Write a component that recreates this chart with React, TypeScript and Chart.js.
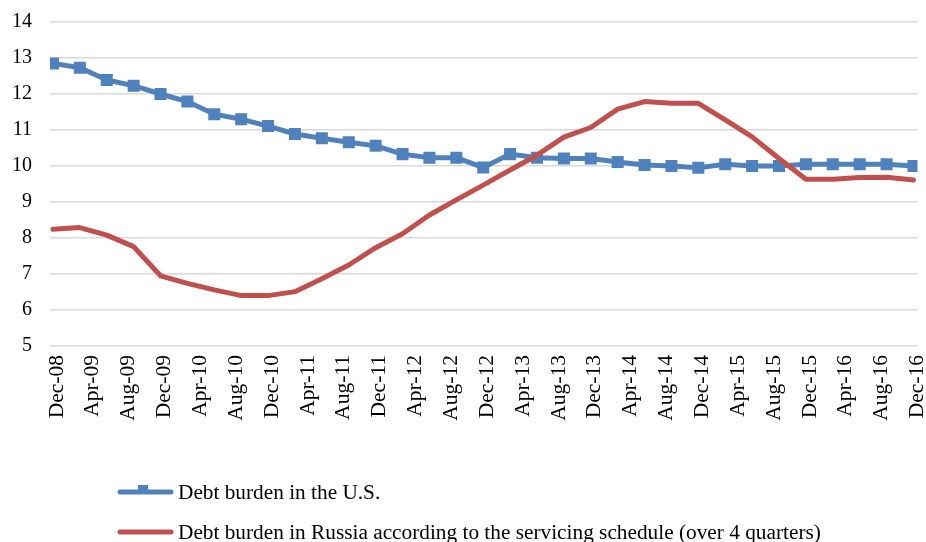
import React, { useEffect, useRef } from "react";
import { Chart, registerables } from "chart.js";

Chart.register(...registerables);

const MONTHS = ["Jan", "Feb", "Mar", "Apr", "May", "Jun", "Jul", "Aug", "Sep", "Oct", "Nov", "Dec"];

// Quarterly observation dates
const quarters = [
  "Dec-08", "Mar-09", "Jun-09", "Sep-09", "Dec-09", "Mar-10", "Jun-10", "Sep-10",
  "Dec-10", "Mar-11", "Jun-11", "Sep-11", "Dec-11", "Mar-12", "Jun-12", "Sep-12",
  "Dec-12", "Mar-13", "Jun-13", "Sep-13", "Dec-13", "Mar-14", "Jun-14", "Sep-14",
  "Dec-14", "Mar-15", "Jun-15", "Sep-15", "Dec-15", "Mar-16", "Jun-16", "Sep-16",
  "Dec-16",
];

const usDebtBurden = [
  12.85, 12.73, 12.39, 12.23, 12.0, 11.79, 11.44, 11.3,
  11.11, 10.89, 10.77, 10.66, 10.56, 10.33, 10.23, 10.23,
  9.96, 10.33, 10.23, 10.21, 10.21, 10.11, 10.03, 10.0,
  9.95, 10.05, 10.0, 10.0, 10.05, 10.05, 10.05, 10.05,
  10.0,
];

const russiaDebtBurden = [
  8.24, 8.29, 8.08, 7.76, 6.95, 6.74, 6.56, 6.4,
  6.4, 6.51, 6.87, 7.25, 7.73, 8.12, 8.64, 9.06,
  9.47, 9.89, 10.3, 10.8, 11.07, 11.58, 11.79, 11.74,
  11.74, 11.28, 10.81, 10.21, 9.63, 9.63, 9.68, 9.69,
  9.61,
];

// Axis tick labels (every four months)
const tickLabels = [
  "Dec-08", "Apr-09", "Aug-09", "Dec-09", "Apr-10", "Aug-10", "Dec-10", "Apr-11",
  "Aug-11", "Dec-11", "Apr-12", "Aug-12", "Dec-12", "Apr-13", "Aug-13", "Dec-13",
  "Apr-14", "Aug-14", "Dec-14", "Apr-15", "Aug-15", "Dec-15", "Apr-16", "Aug-16",
  "Dec-16",
];

const seriesLabels = [
  "Debt burden in the U.S.",
  "Debt burden in Russia according to the servicing schedule (over 4 quarters)",
];

const Y_MIN = 5;
const Y_MAX = 14;

// months elapsed since the first observation
function monthIndex(label: string): number {
  const [m, y] = label.split("-");
  const [m0, y0] = quarters[0].split("-");
  return (Number(y) - Number(y0)) * 12 + (MONTHS.indexOf(m) - MONTHS.indexOf(m0));
}

const FONT = '"Liberation Serif", "Times New Roman", serif';

const legendPlugin = {
  id: "customLegend",
  afterDraw(chart: any) {
    const ctx = chart.ctx;
    const rows = [492, 532];
    const sequence = chart.data.datasets.slice().sort((a: any, b: any) => a.legendIndex - b.legendIndex);
    sequence.forEach((ds: any, i: number) => {
      const y = rows[i];
      ctx.save();
      ctx.strokeStyle = ds.borderColor;
      ctx.lineWidth = 5;
      ctx.lineCap = "round";
      ctx.beginPath();
      ctx.moveTo(120, y);
      ctx.lineTo(171, y);
      ctx.stroke();
      if (ds.pointRadius > 0) {
        ctx.fillStyle = ds.borderColor;
        ctx.fillRect(138, y - 7, 10, 7);
      }
      ctx.fillStyle = "#000";
      ctx.font = `21.3px ${FONT}`;
      ctx.textBaseline = "middle";
      ctx.textAlign = "left";
      ctx.fillText(ds.label, 178, y + 1);
      ctx.restore();
    });
  },
};

export default function App() {
  const canvasRef = useRef<HTMLCanvasElement | null>(null);

  useEffect(() => {
    const canvas = canvasRef.current;
    if (!canvas) return;
    const chart = new Chart(canvas, {
      type: "line",
      data: {
        datasets: [
          {
            label: seriesLabels[0],
            legendIndex: 0,
            data: quarters.map((q, i) => ({ x: monthIndex(q), y: usDebtBurden[i] })),
            borderColor: "#4f81bd",
            backgroundColor: "#4f81bd",
            borderWidth: 5,
            pointStyle: "rect",
            pointRadius: 8.5,
            pointBorderWidth: 0,
            pointBackgroundColor: "#4f81bd",
            tension: 0,
            order: 1,
          } as any,
          {
            label: seriesLabels[1],
            legendIndex: 1,
            data: quarters.map((q, i) => ({ x: monthIndex(q), y: russiaDebtBurden[i] })),
            borderColor: "#c0504d",
            backgroundColor: "#c0504d",
            borderWidth: 5,
            pointRadius: 0,
            borderJoinStyle: "round",
            borderCapStyle: "round",
            tension: 0,
            order: 0,
          } as any,
        ],
      },
      options: {
        animation: false,
        responsive: false,
        layout: { padding: { top: 22, right: 7, left: 0, bottom: 0 } },
        plugins: {
          legend: { display: false },
          tooltip: { enabled: false },
        },
        scales: {
          x: {
            type: "linear",
            min: -0.33,
            max: 96.45,
            grid: { display: false, drawTicks: false },
            border: { display: false },
            afterBuildTicks: (scale: any) => {
              scale.ticks = tickLabels.map((l) => ({ value: monthIndex(l) }));
            },
            afterFit: (scale: any) => {
              scale.height = 196;
              scale.paddingLeft = 0;
              scale.paddingRight = 0;
            },
            ticks: {
              autoSkip: false,
              maxRotation: 90,
              minRotation: 90,
              padding: 9,
              labelOffset: 4,
              color: "#000",
              font: { family: FONT, size: 21.5 },
              callback: (_v: any, i: number) => tickLabels[i],
            },
          },
          y: {
            type: "linear",
            min: Y_MIN,
            max: Y_MAX,
            grid: { color: "#d9d9d9", lineWidth: 1.5, drawTicks: false },
            border: { display: false },
            afterFit: (scale: any) => {
              scale.width = 50;
              scale.paddingTop = 0;
              scale.paddingBottom = 0;
            },
            ticks: {
              stepSize: 1,
              padding: 18,
              color: "#000",
              font: { family: FONT, size: 20 },
            },
          },
        },
      } as any,
      plugins: [legendPlugin],
    });
    return () => chart.destroy();
  }, []);

  return (
    <div style={{ position: "absolute", left: 0, top: 0, width: 926, height: 542, background: "#fff" }}>
      <canvas ref={canvasRef} width={926} height={542} style={{ display: "block" }} />
    </div>
  );
}
